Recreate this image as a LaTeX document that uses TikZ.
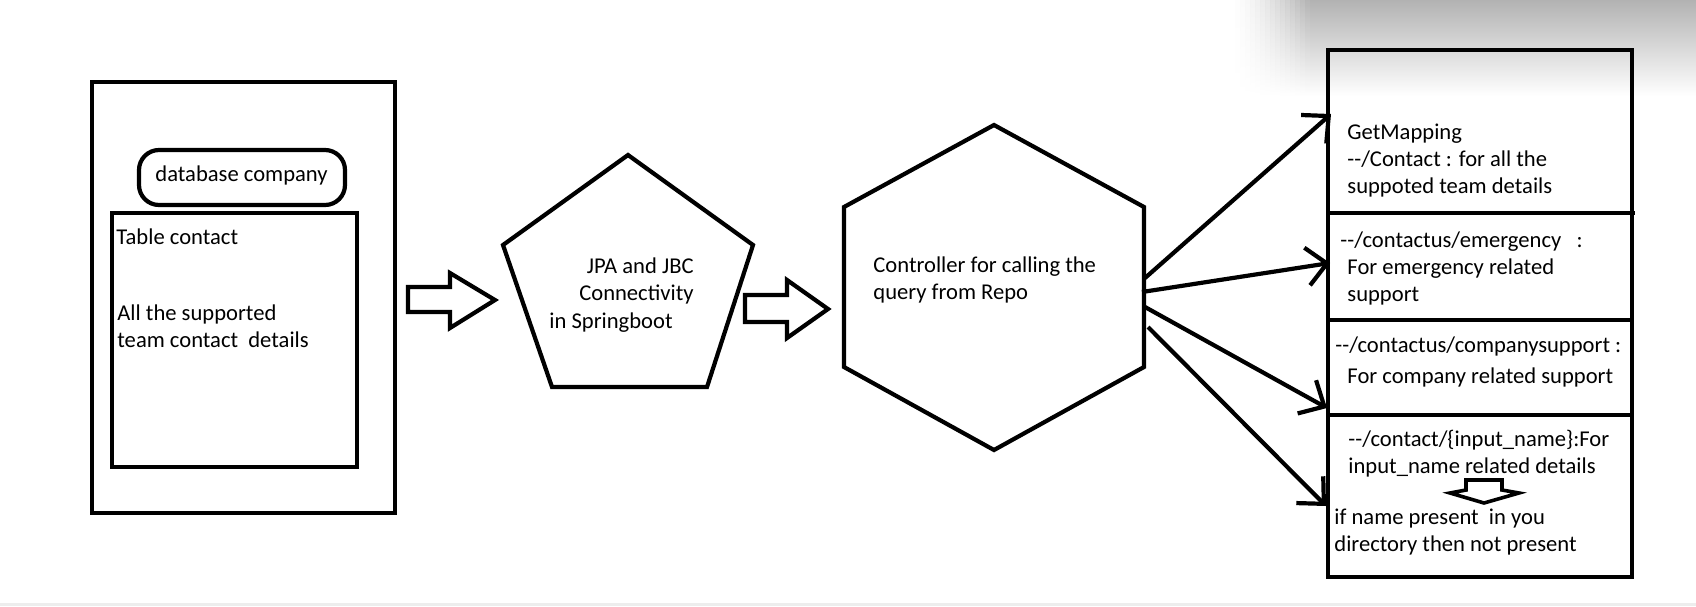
\documentclass[tikz,border=0pt]{standalone}
\usepackage{fontspec}
\setmainfont{Carlito}
\usepackage{tikz}
\usetikzlibrary{positioning,arrows.meta}

\begin{document}
\begin{tikzpicture}[x=0.5pt,y=-0.5pt,
  every node/.style={font=\fontsize{11.3}{13.4}\selectfont,inner sep=0pt,align=left},
  stroke/.style={draw=black,line width=2.1pt},
  flow/.style={line width=2.1pt,-{Straight Barb[length=10pt,width=19pt]}},
  txt/.style={anchor=base west},
  shadowband/.style={top color=black!30,middle color=black!9,bottom color=white}]
  \useasboundingbox (0,0) rectangle (1696,606);
  % shadow of a window, top right, and strip at the bottom
  \foreach \i [evaluate=\i as \op using ((\i+0.5)/16)^1.5] in {0,...,15}
    \shade[shadowband,opacity=\op] (1230+5*\i,0) rectangle (1235+5*\i,96);
  \shade[shadowband] (1310,0) rectangle (1696,96);
  \fill[black!7] (0,603) rectangle (1696,606);

  % Database side
  \draw[stroke] (92,82) rectangle (395,513);
  \draw[stroke,rounded corners=10pt] (139,150) rectangle (345,205);
  \node[txt] (dbname) at (155,181) {database company};
  \draw[stroke] (112,213) rectangle (357,467);
  \node[txt] (tblname) at (116,244) {Table contact};
  \node[txt] (tbldesc) at (117,347) {All the supported\\team contact\ \ details};

  % block arrow into JPA
  \draw[stroke] (408,287) -- (450,287) -- (450,273) -- (495,300) -- (450,328) -- (450,312) -- (408,312) -- cycle;

  % JPA pentagon
  \draw[stroke] (628,155) -- (753,245) -- (707,387) -- (552,387) -- (503,245) -- cycle;
  \node[anchor=base east,align=right] (jpa) at (694,300) {JPA and JBC\\Connectivity};
  \node[txt] (spring) at (549,328) {in Springboot};

  % block arrow into controller
  \draw[stroke] (745,295) -- (787,295) -- (787,280) -- (828,309) -- (787,338) -- (787,322) -- (745,322) -- cycle;

  % Controller hexagon
  \draw[stroke] (994,125) -- (1144,207) -- (1144,367) -- (994,450) -- (844,367) -- (844,207) -- cycle;
  \node[txt] (ctrl) at (873,299) {Controller for calling the\\query from Repo};
  \coordinate (out1) at (1145,278);
  \coordinate (out2) at (1142,292);
  \coordinate (out3) at (1145,307);
  \coordinate (out4) at (1148,327);

  % Mapping column
  \draw[stroke] (1328,50) rectangle (1632,577);
  \draw[stroke] (1328,213) -- (1635,213);
  \draw[stroke] (1328,320) -- (1632,320);
  \draw[stroke] (1328,415) -- (1632,415);
  \coordinate (getmap) at (1331,114);
  \coordinate (emerg) at (1330,263);
  \coordinate (compsup) at (1327,408);
  \coordinate (byname) at (1326,506);

  \node[txt] (gettxt) at (1347,193) {GetMapping\\-{}-/Contact : for all the\\suppoted team details};
  \node[txt] (emergtxt) at (1340,301) {-{}-/contactus/emergency\ \ \ :\\\hspace*{3.5pt}For emergency related\\\hspace*{3.5pt}support};
  \node[txt] (suptxt) at (1335,383) {-{}-/contactus/companysupport :\\[2pt]\hspace*{6pt}For company related support};
  \node[txt] (nametxt) at (1348,473) {-{}-/contact/\{input\_name\}:For\\input\_name related details};
  \node[txt] (resulttxt) at (1334,551) {if name present\ \ in you\\directory then not present};
  \draw[line width=1.8pt] (1466,480) -- (1502,480) -- (1502,490) -- (1519,493) -- (1484,503) -- (1450,493) -- (1466,490) -- cycle;

  % calls from controller
  \draw[flow] (out1) -- (getmap);
  \draw[flow] (out2) -- (emerg);
  \draw[flow] (out3) -- (compsup);
  \draw[flow] (out4) -- (byname);
\end{tikzpicture}
\end{document}
